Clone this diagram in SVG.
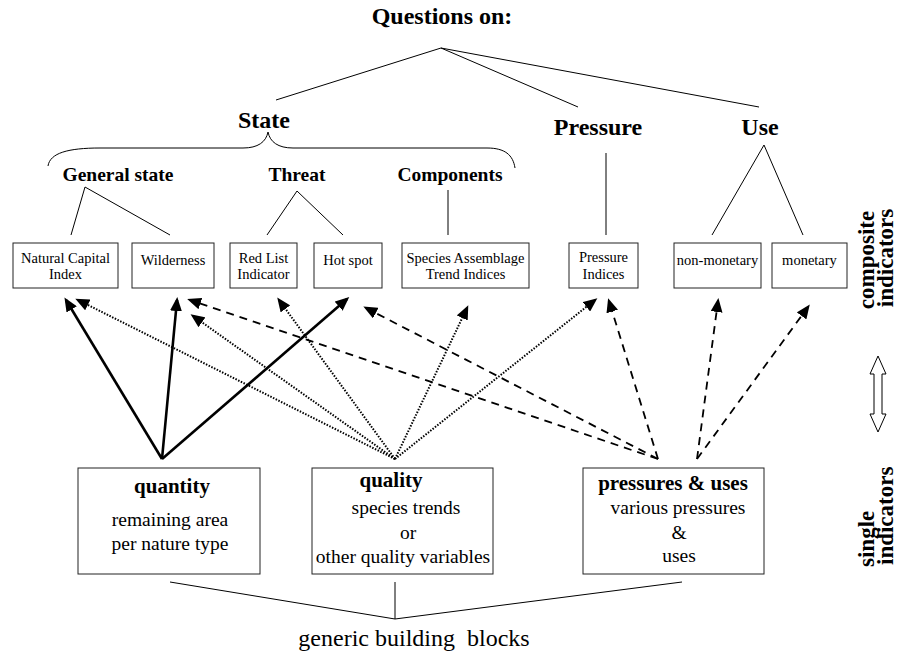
<svg xmlns="http://www.w3.org/2000/svg" width="902" height="653" viewBox="0 0 902 653">
<style>
text{font-family:"Liberation Serif","Times New Roman",serif;fill:#000}
.h1{font-size:24px;font-weight:bold;text-anchor:middle}
.h2{font-size:19.5px;font-weight:bold;text-anchor:middle}
.small{font-size:14.5px;text-anchor:middle}
.big{font-size:19.5px;text-anchor:middle}
.bt{font-size:21px;font-weight:bold;text-anchor:middle}
.side{font-size:23px;font-weight:bold}
.box{fill:#fff;stroke:#222;stroke-width:1}
.tree{fill:none;stroke:#000;stroke-width:1}
.solid{fill:none;stroke:#000;stroke-width:2.6}
.dot{fill:none;stroke:#000;stroke-width:2;stroke-dasharray:1.5 1.5}
.dash{fill:none;stroke:#000;stroke-width:1.8;stroke-dasharray:8 6}
</style>
<defs>
<marker id="ah" viewBox="0 0 14 12" refX="11" refY="6" markerWidth="14" markerHeight="12" markerUnits="userSpaceOnUse" orient="auto">
<path d="M0,0 L14,6 L0,12 z" fill="#000"/>
</marker>
</defs>

<g id="title">
<text class="h1" x="442" y="24">Questions on:</text>
</g>
<g id="state"><text class="h1" x="264" y="128">State</text></g>
<g id="pressure"><text class="h1" x="598" y="135">Pressure</text></g>
<g id="use"><text class="h1" x="760" y="135">Use</text></g>
<g id="general-state"><text class="h2" x="118" y="181">General state</text></g>
<g id="threat"><text class="h2" x="297" y="181">Threat</text></g>
<g id="components"><text class="h2" x="450" y="181">Components</text></g>

<g id="nci"><rect class="box" x="13" y="243" width="105" height="45"/><text class="small" x="65.5" y="263">Natural Capital</text><text class="small" x="65.5" y="279">Index</text></g>
<g id="wilderness"><rect class="box" x="132" y="243" width="82" height="45"/><text class="small" x="173" y="265">Wilderness</text></g>
<g id="redlist"><rect class="box" x="230" y="243" width="67" height="45"/><text class="small" x="263.5" y="263">Red List</text><text class="small" x="263.5" y="279">Indicator</text></g>
<g id="hotspot"><rect class="box" x="314" y="243" width="68" height="45"/><text class="small" x="348" y="265">Hot spot</text></g>
<g id="species"><rect class="box" x="402" y="243" width="127" height="45"/><text class="small" x="465.5" y="263">Species Assemblage</text><text class="small" x="465.5" y="279">Trend Indices</text></g>
<g id="pressure-indices"><rect class="box" x="569" y="243" width="69" height="45"/><text class="small" x="603.5" y="262">Pressure</text><text class="small" x="603.5" y="279">Indices</text></g>
<g id="non-monetary"><rect class="box" x="674" y="243" width="87" height="45"/><text class="small" x="717.5" y="265">non-monetary</text></g>
<g id="monetary"><rect class="box" x="772" y="243" width="75" height="45"/><text class="small" x="809.5" y="265">monetary</text></g>

<g id="quantity"><rect class="box" x="78" y="468" width="182" height="106"/><text class="bt" x="172" y="493">quantity</text><text class="big" x="170" y="526">remaining area</text><text class="big" x="170" y="550">per nature type</text></g>
<g id="quality"><rect class="box" x="312" y="468" width="181" height="106"/><text class="bt" x="391" y="487">quality</text><text class="big" x="406" y="514">species trends</text><text class="big" x="408" y="539">or</text><text class="big" x="403" y="563">other quality variables</text></g>
<g id="pressures-uses"><rect class="box" x="583" y="468" width="181" height="106"/><text class="bt" x="673" y="490">pressures &amp; uses</text><text class="big" x="678" y="514">various pressures</text><text class="big" x="679" y="539">&amp;</text><text class="big" x="679" y="562">uses</text></g>

<g id="generic"><text class="big" x="414" y="646" style="font-size:24px" xml:space="preserve">generic building  blocks</text></g>

<g id="composite-label">
<text class="side" text-anchor="middle" transform="translate(874,260) rotate(-90)">composite</text>
<text class="side" text-anchor="middle" transform="translate(893,258) rotate(-90)">indicators</text>
</g>
<g id="single-label">
<text class="side" text-anchor="start" transform="translate(874,567) rotate(-90)">single</text>
<text class="side" text-anchor="start" transform="translate(893,565) rotate(-90)">indicators</text>
</g>
<g id="double-arrow">
<polygon points="878,356 870,374 874,374 874,414 870,414 878,432 886,414 882,414 882,374 886,374" fill="#fff" stroke="#000" stroke-width="1"/>
</g>

<g id="connectors">
<path class="tree" d="M441,48 L276,100 M441,48 L578,107 M441,48 L759,107"/>
<path class="tree" d="M48,166 C50,153 68,148 100,148 L243,148 C258,148 266,142 268,132 C270,142 278,148 293,148 L487,148 C505,148 513,155 515,168"/>
<path class="tree" d="M71,235 L85,187 L170,235"/>
<path class="tree" d="M267,235 L297,191 L343,235"/>
<path class="tree" d="M448,190 L448,235"/>
<path class="tree" d="M606,153 L606,235"/>
<path class="tree" d="M712,235 L764,145 L803,235"/>
<path class="tree" d="M170,582 L395,619 L682,582 M395,582 L395,619"/>

<line class="solid" x1="162" y1="459" x2="66" y2="300" marker-end="url(#ah)"/>
<line class="solid" x1="162" y1="459" x2="177" y2="300" marker-end="url(#ah)"/>
<line class="solid" x1="162" y1="459" x2="347" y2="299" marker-end="url(#ah)"/>

<line class="dot" x1="395" y1="459" x2="78" y2="300" marker-end="url(#ah)"/>
<line class="dot" x1="395" y1="459" x2="193" y2="316" marker-end="url(#ah)"/>
<line class="dot" x1="395" y1="459" x2="279" y2="300" marker-end="url(#ah)"/>
<line class="dot" x1="395" y1="459" x2="467" y2="308" marker-end="url(#ah)"/>
<line class="dot" x1="395" y1="459" x2="595" y2="300" marker-end="url(#ah)"/>

<line class="dash" x1="658" y1="459" x2="190" y2="300" marker-end="url(#ah)"/>
<line class="dash" x1="658" y1="459" x2="366" y2="308" marker-end="url(#ah)"/>
<line class="dash" x1="658" y1="459" x2="609" y2="301" marker-end="url(#ah)"/>
<line class="dash" x1="697" y1="459" x2="718" y2="301" marker-end="url(#ah)"/>
<line class="dash" x1="697" y1="459" x2="808" y2="307" marker-end="url(#ah)"/>
</g>
</svg>
